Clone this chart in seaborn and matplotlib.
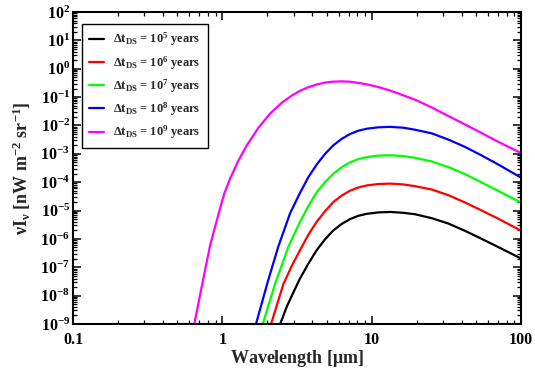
import numpy as np
import pandas as pd
import matplotlib
matplotlib.use('Agg')
import matplotlib.pyplot as plt
from matplotlib.ticker import LogLocator, FuncFormatter, NullFormatter
import seaborn as sns

# wavelength [um] and nu*I_nu [nW m^-2 sr^-1]
wl_1e5 = [2.44, 2.70, 2.95, 3.31, 3.77, 4.28, 4.88, 5.54, 6.31, 7.17, 8.15, 9.27, 11.1,
          13.3, 16.3, 19.5, 25.3, 32.7, 42.3, 54.6, 70.6, 100]
nuI_1e5 = [1.0e-9, 4.07e-9, 1.12e-8, 3.98e-8, 1.35e-7, 3.98e-7, 9.77e-7, 2.0e-6, 3.39e-6,
           5.01e-6, 6.53e-6, 7.67e-6, 8.61e-6, 8.91e-6, 8.32e-6, 7.41e-6, 5.37e-6, 3.47e-6,
           1.91e-6, 1.0e-6, 5.13e-7, 2.04e-7]

wl_1e6 = [2.12, 2.56, 2.9, 3.31, 3.77, 4.28, 4.88, 5.54, 6.31, 7.17, 8.15, 9.27, 11.1,
          13.3, 16.3, 19.5, 25.3, 32.7, 42.3, 54.6, 70.6, 100]
nuI_1e6 = [1.0e-9, 2.51e-8, 1.05e-7, 3.98e-7, 1.41e-6, 3.98e-6, 9.55e-6, 2.0e-5, 3.39e-5,
           5.01e-5, 6.53e-5, 7.67e-5, 8.61e-5, 8.91e-5, 8.32e-5, 7.24e-5, 5.50e-5, 3.47e-5,
           1.91e-5, 1.0e-5, 5.13e-6, 1.95e-6]

wl_1e7 = [1.865, 2.25, 2.77, 3.31, 3.77, 4.28, 4.88, 5.54, 6.31, 7.17, 8.15, 9.27, 11.1,
          13.3, 16.3, 19.5, 25.3, 32.7, 42.3, 54.6, 70.6, 100]
nuI_1e7 = [1.0e-9, 2.51e-8, 5.37e-7, 3.98e-6, 1.45e-5, 4.37e-5, 1.02e-4, 2.0e-4, 3.39e-4,
           5.01e-4, 6.53e-4, 7.67e-4, 8.61e-4, 8.91e-4, 8.32e-4, 7.24e-4, 5.37e-4, 3.39e-4,
           1.91e-4, 9.77e-5, 4.90e-5, 1.91e-5]

wl_1e8 = [1.68, 2.03, 2.37, 2.84, 3.31, 3.77, 4.28, 4.88, 5.54, 6.31, 7.17, 8.15, 9.27,
          11.1, 13.3, 16.3, 19.5, 25.3, 32.7, 42.3, 54.6, 70.6, 100]
nuI_1e8 = [1.0e-9, 3.55e-8, 5.37e-7, 7.94e-6, 4.17e-5, 1.51e-4, 4.17e-4, 1.0e-3, 2.0e-3,
           3.39e-3, 5.01e-3, 6.53e-3, 7.67e-3, 8.61e-3, 8.91e-3, 8.32e-3, 7.08e-3, 5.25e-3,
           3.16e-3, 1.74e-3, 8.71e-4, 4.17e-4, 1.45e-4]

wl_1e9 = [0.649, 0.746, 0.828, 0.94, 1.03, 1.126, 1.28, 1.455, 1.75, 2.09, 2.50, 2.92, 3.31,
          3.77, 4.28, 4.88, 5.54, 6.31, 7.17, 8.15, 9.27, 11.1, 13.3, 16.3, 19.5, 25.3, 32.7,
          42.3, 54.6, 70.6, 100]
nuI_1e9 = [1.0e-9, 3.98e-8, 5.89e-7, 7.08e-6, 3.98e-5, 1.32e-4, 5.75e-4, 1.95e-3, 8.51e-3,
           2.63e-2, 6.31e-2, 0.1135, 0.166, 0.224, 0.279, 0.324, 0.351, 0.359, 0.347, 0.316,
           0.282, 0.226, 0.170, 0.115, 0.0813, 0.0427, 0.0214, 0.0107, 5.37e-3, 2.63e-3,
           1.07e-3]

exponents = [5, 6, 7, 8, 9]
colors = ['#000000', '#ff0000', '#00ff00', '#0000ff', '#ff00ff']

sns.set_theme(style='ticks')
plt.rcParams['font.family'] = ['Liberation Serif', 'DejaVu Serif']
plt.rcParams['font.weight'] = 'bold'
plt.rcParams['mathtext.fontset'] = 'custom'
plt.rcParams['mathtext.rm'] = 'Liberation Serif:bold'
plt.rcParams['mathtext.it'] = 'Liberation Serif:italic:bold'
plt.rcParams['mathtext.bf'] = 'Liberation Serif:bold'
plt.rcParams['mathtext.default'] = 'rm'

labels = [r'$\Delta$t$_{\rm DS}$ = 10$^{%d}$ years' % e for e in exponents]
frames = []
for lab, wl, val in zip(labels, [wl_1e5, wl_1e6, wl_1e7, wl_1e8, wl_1e9],
                        [nuI_1e5, nuI_1e6, nuI_1e7, nuI_1e8, nuI_1e9]):
    frames.append(pd.DataFrame({'wavelength': wl, 'nuI': val, 'run': lab}))
df = pd.concat(frames, ignore_index=True)

fig = plt.figure(figsize=(5.35, 3.72), dpi=100)
ax = fig.add_axes([73 / 535, 1 - 324 / 372, 448 / 535, 312 / 372])
ax.set(xscale='log', yscale='log')

sns.lineplot(data=df, x='wavelength', y='nuI', hue='run', hue_order=labels,
             palette=colors, sort=False, estimator=None, linewidth=1.6, ax=ax)

ax.set_xlim(0.1, 100)
ax.set_ylim(1e-9, 1e2)

ax.xaxis.set_major_locator(LogLocator(base=10, numticks=10))
ax.xaxis.set_minor_locator(LogLocator(base=10, subs=np.arange(2, 10), numticks=50))
ax.yaxis.set_major_locator(LogLocator(base=10, numticks=20))
ax.yaxis.set_minor_locator(LogLocator(base=10, subs=np.arange(2, 10), numticks=200))
ax.xaxis.set_major_formatter(FuncFormatter(lambda v, p: '%g' % v))
ax.yaxis.set_major_formatter(FuncFormatter(lambda v, p: r'$10^{%d}$' % round(np.log10(v))))
ax.xaxis.set_minor_formatter(NullFormatter())
ax.yaxis.set_minor_formatter(NullFormatter())

ax.tick_params(which='both', direction='in', top=True, right=True, colors='black',
               labelsize=11.5)
ax.tick_params(which='major', length=6, width=1.1)
ax.tick_params(which='minor', length=3, width=0.9)
ax.tick_params(axis='y', pad=2)
ax.tick_params(axis='x', pad=6)
for s in ax.spines.values():
    s.set_linewidth(1.5)
    s.set_color('black')

ax.set_xlabel(r'Wavelength [$\mu$m]', fontsize=13, fontweight='bold', labelpad=0)
ax.set_ylabel(r'$\nu$I$_\nu$ [nW m$^{-2}$ sr$^{-1}$]', fontsize=13,
              fontweight='bold', labelpad=5)

leg = ax.legend(loc='upper left', bbox_to_anchor=(0.02, 0.9615), borderaxespad=0,
                fontsize=9, frameon=True, fancybox=False, framealpha=1,
                edgecolor='black', handlelength=1.2, handletextpad=0.75,
                labelspacing=0.45, borderpad=0.55, title=None)
leg.get_frame().set_linewidth(1.0)
for line in leg.get_lines():
    line.set_linewidth(1.6)

fig.savefig('out.png', dpi=100, facecolor='white')
